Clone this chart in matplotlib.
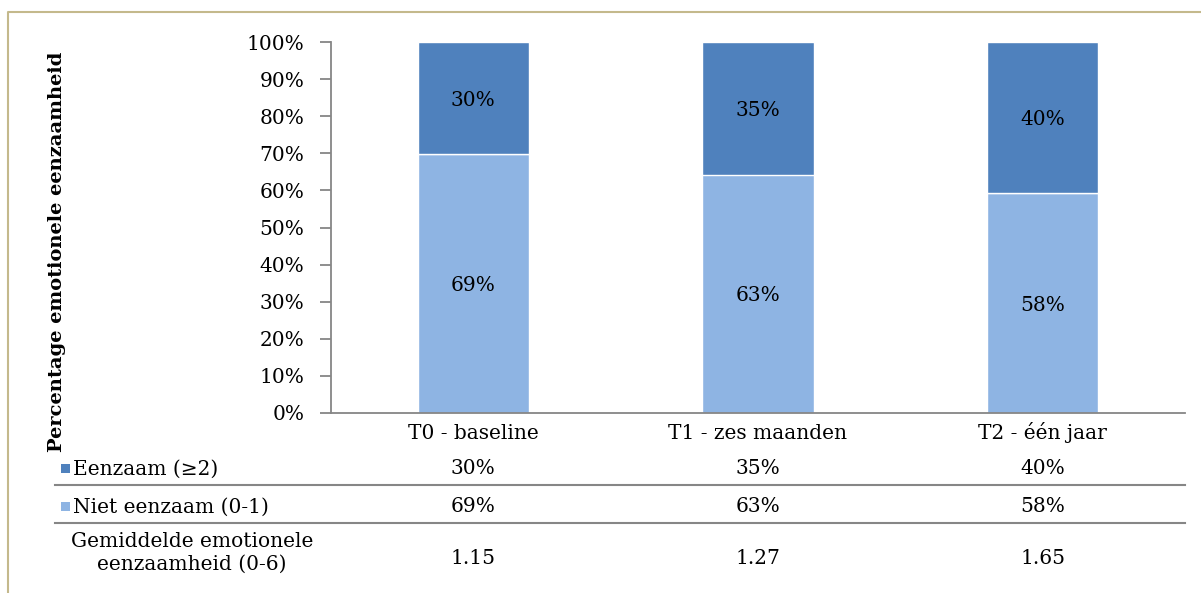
import numpy as np
import matplotlib
matplotlib.use("Agg")
from matplotlib import pyplot as plt
from matplotlib.lines import Line2D
from matplotlib.patches import Rectangle
from matplotlib.transforms import blended_transform_factory

# gegevens emotionele eenzaamheid per meetmoment
categories = ["T0 - baseline", "T1 - zes maanden", "T2 - één jaar"]
eenzaam = [30, 35, 40]
niet_eenzaam = [69, 63, 58]
gemiddelde = ["1.15", "1.27", "1.65"]
series_labels = ["Eenzaam (≥2)", "Niet eenzaam (0-1)"]
gem_label = "Gemiddelde emotionele\neenzaamheid (0-6)"

dark = "#4F81BD"
light = "#8EB4E3"
grey = "#868686"
W, H = 1201, 593

plt.rcParams["font.family"] = ["DejaVu Serif"]
fs = 14.5


def fy(py):
    # pixelpositie van boven -> figuurcoordinaat
    return 1 - py / H


fig = plt.figure(figsize=(W / 100, H / 100), dpi=100)
ax = fig.add_axes([331 / W, fy(413), (1185 - 331) / W, (413 - 42) / H])

x = np.arange(len(categories))
tot = np.array(eenzaam) + np.array(niet_eenzaam)
p_niet = np.array(niet_eenzaam) / tot * 100
p_een = np.array(eenzaam) / tot * 100

ax.bar(x, p_niet, width=0.39, color=light, edgecolor="white", linewidth=1)
ax.bar(x, p_een, width=0.39, bottom=p_niet, color=dark, edgecolor="white", linewidth=1)

# labels midden in elk segment
for i in range(len(x)):
    ax.text(x[i], p_niet[i] / 2 - 0.5, f"{niet_eenzaam[i]}%", ha="center", va="center", fontsize=fs)
    ax.text(x[i], p_niet[i] + p_een[i] / 2 - 0.6, f"{eenzaam[i]}%", ha="center", va="center", fontsize=fs)

ax.set_xlim(-0.5, 2.5)
ax.set_ylim(0, 100)
ax.set_yticks(np.arange(0, 101, 10))
ax.set_yticklabels([f"{v}%" for v in range(0, 101, 10)], fontsize=fs)
ax.set_xticks([])
for s in ["top", "right"]:
    ax.spines[s].set_visible(False)
for s in ["left", "bottom"]:
    ax.spines[s].set_color(grey)
    ax.spines[s].set_linewidth(1.3)
ax.tick_params(axis="y", direction="out", length=8, color=grey, width=1.3, pad=11)

fig.text(57 / W, fy(252), "Percentage emotionele eenzaamheid", rotation=90,
         ha="center", va="center", fontsize=14, fontweight="bold")

# datatabel onder de grafiek
tr = blended_transform_factory(ax.transData, fig.transFigure)
for i, c in enumerate(categories):
    ax.text(x[i], fy(439), c, transform=tr, ha="center", va="baseline", fontsize=fs)
    ax.text(x[i], fy(474), f"{eenzaam[i]}%", transform=tr, ha="center", va="baseline", fontsize=fs)
    ax.text(x[i], fy(512), f"{niet_eenzaam[i]}%", transform=tr, ha="center", va="baseline", fontsize=fs)
    ax.text(x[i], fy(564), gemiddelde[i], transform=tr, ha="center", va="baseline", fontsize=fs)

for py, lab, col in [(468, series_labels[0], dark), (506, series_labels[1], light)]:
    fig.add_artist(Rectangle((61 / W, fy(py + 4.5)), 9 / W, 9 / H, transform=fig.transFigure,
                             facecolor=col, edgecolor="none"))
    fig.text(73 / W, fy(py + 7), lab, ha="left", va="baseline", fontsize=fs)
fig.text(192 / W, fy(553), gem_label, ha="center", va="center", fontsize=fs, linespacing=1.3)

for py in [485, 523]:
    fig.add_artist(Line2D([55 / W, 1185 / W], [fy(py), fy(py)], transform=fig.transFigure,
                          color=grey, linewidth=1.5))

# kader rond de figuur
fig.add_artist(Line2D([8 / W, 8 / W, 1.0], [0.0, fy(12), fy(12)], transform=fig.transFigure,
                      color="#C4B98C", linewidth=1.5))

fig.savefig("out.png", dpi=100)
